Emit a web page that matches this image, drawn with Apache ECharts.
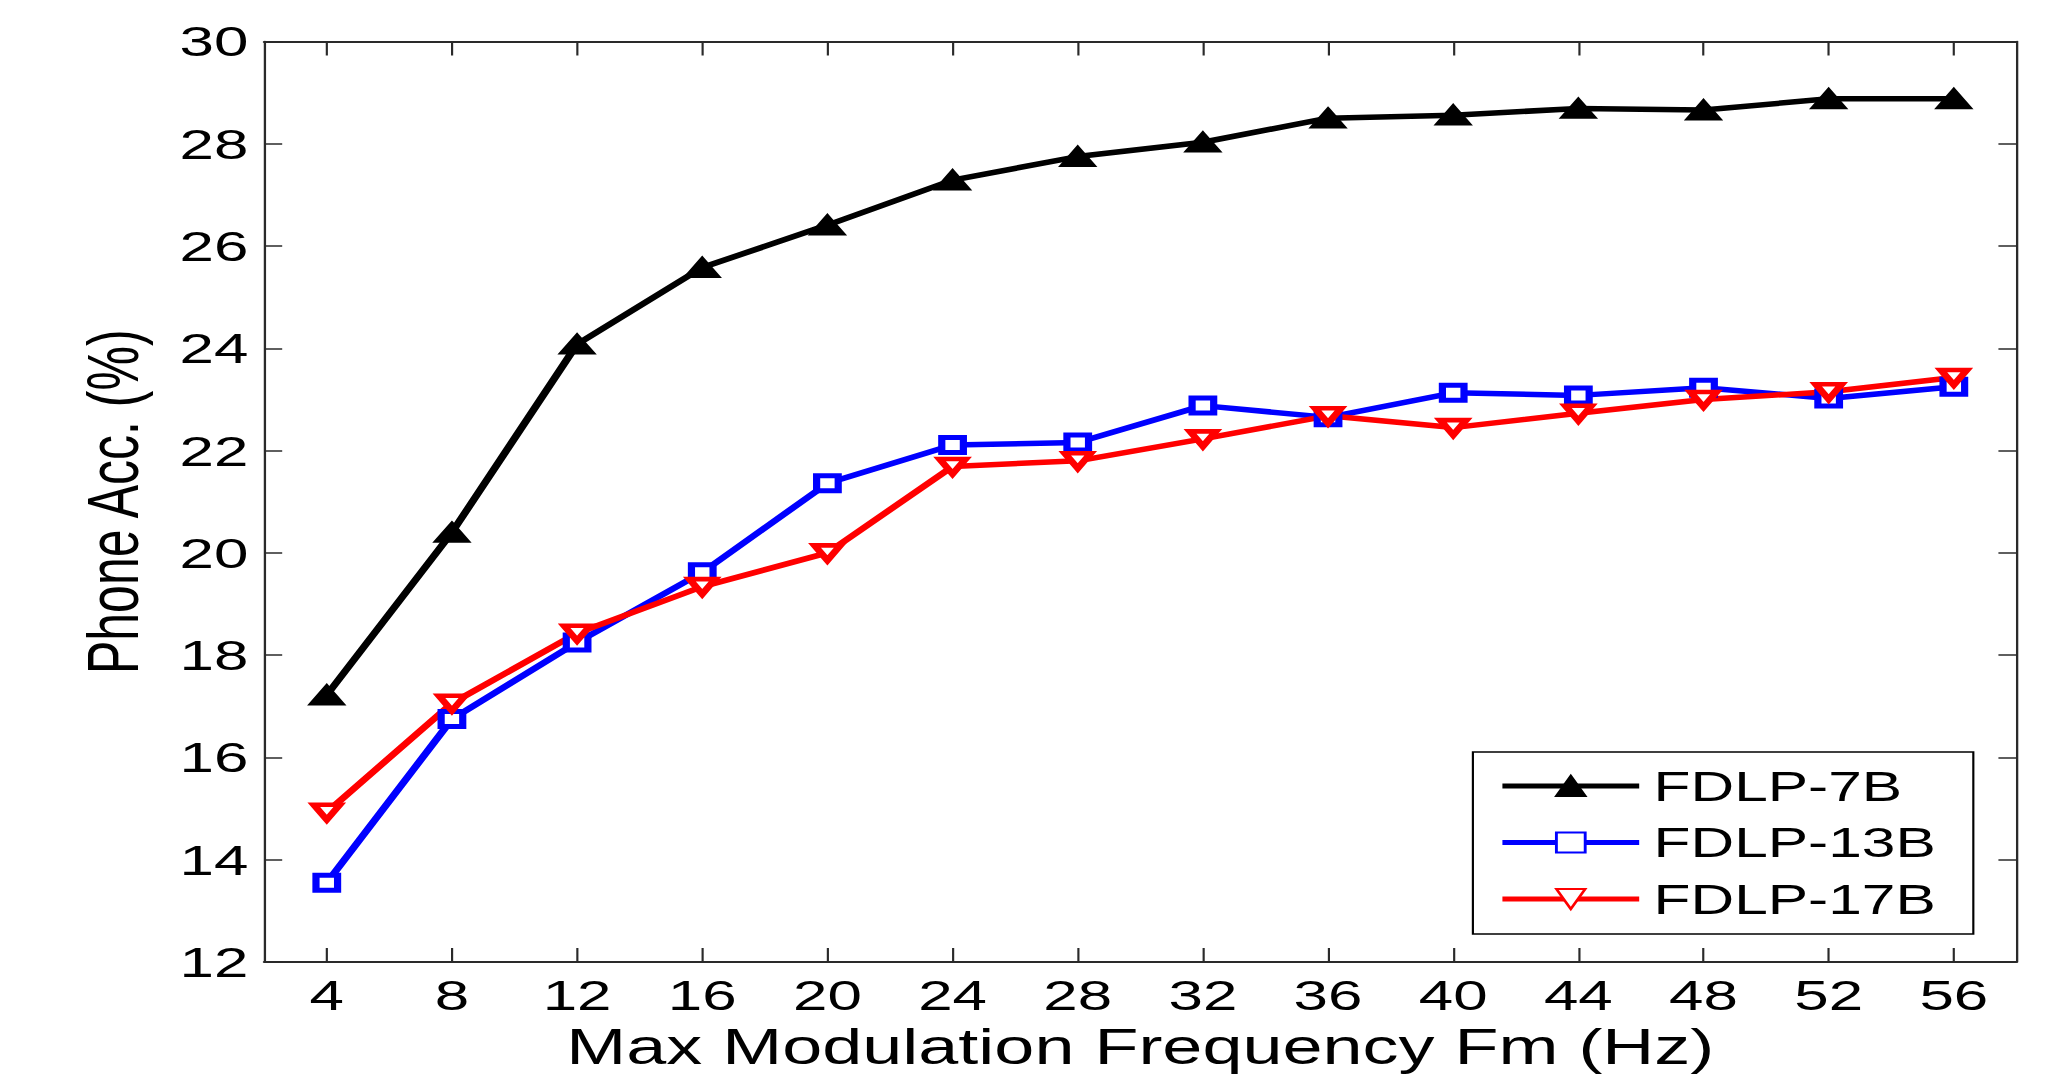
<!DOCTYPE html>
<html>
<head>
<meta charset="utf-8">
<script src="https://cdn.jsdelivr.net/npm/echarts@6/dist/echarts.min.js"></script>
<style>
html,body{margin:0;padding:0;background:#fff;}
#wrap{width:2056px;height:1086px;overflow:hidden;background:#fff;}
#chart{width:1428px;height:1086px;transform:scaleX(1.43978);transform-origin:0 0;}
</style>
</head>
<body>
<div id="wrap"><div id="chart"></div></div>
<script>
const categories = ['4','8','12','16','20','24','28','32','36','40','44','48','52','56'];
const fdlp7B  = [17.22, 20.4, 24.08, 25.58, 26.41, 27.29, 27.75, 28.03, 28.5, 28.56, 28.69, 28.66, 28.88, 28.88];
const fdlp13B = [13.55, 16.75, 18.25, 19.62, 21.36, 22.11, 22.16, 22.88, 22.65, 23.13, 23.08, 23.23, 23.02, 23.25];
const fdlp17B = [14.93, 17.06, 18.43, 19.34, 20.0, 21.69, 21.8, 22.23, 22.68, 22.45, 22.73, 23.0, 23.15, 23.43];
const yTicks = {min: 12, max: 30, interval: 2};
const xTitle = 'Max Modulation Frequency Fm (Hz)';
const yTitle = 'Phone Acc. (%)';

const FONT = '"Liberation Sans", Arial, Helvetica, sans-serif';
const axisColor = '#2a2a2a';

const chart = echarts.init(document.getElementById('chart'), null, {renderer: 'svg'});
chart.setOption({
  backgroundColor: '#fff',
  animation: false,
  grid: {left: 183.5, right: 27.5, top: 41.5, bottom: 124, containLabel: false},
  legend: {
    left: 1023, top: 752,
    orient: 'vertical',
    backgroundColor: '#fff',
    borderColor: '#000',
    borderWidth: 1.5,
    borderRadius: 0,
    padding: [13, 26, 14, 18],
    itemWidth: 95,
    itemHeight: 25,
    itemGap: 14.5,
    lineStyle: {width: 5},
    textStyle: {fontFamily: FONT, fontSize: 42, lineHeight: 42, color: '#000', padding: [0, 0, 0, 5]},
    data: ['FDLP-7B', 'FDLP-13B', 'FDLP-17B']
  },
  xAxis: [{
    type: 'category',
    data: categories,
    boundaryGap: true,
    position: 'bottom',
    name: xTitle,
    nameLocation: 'middle',
    nameGap: 58,
    nameTextStyle: {fontFamily: FONT, fontSize: 50, color: '#000'},
    axisLine: {show: true, lineStyle: {color: axisColor, width: 2}},
    axisTick: {show: true, inside: true, alignWithLabel: true, interval: 0, length: 14, lineStyle: {color: axisColor, width: 1.5}},
    axisLabel: {show: true, interval: 0, margin: 12, fontFamily: FONT, fontSize: 43, color: '#000'},
    splitLine: {show: false}
  }, {
    type: 'category',
    data: categories,
    boundaryGap: true,
    position: 'top',
    axisLine: {show: true, lineStyle: {color: axisColor, width: 2}},
    axisTick: {show: true, inside: true, alignWithLabel: true, interval: 0, length: 14, lineStyle: {color: axisColor, width: 1.5}},
    axisLabel: {show: false},
    splitLine: {show: false}
  }],
  yAxis: [{
    type: 'value',
    min: yTicks.min, max: yTicks.max, interval: yTicks.interval,
    position: 'left',
    name: yTitle,
    nameLocation: 'middle',
    nameGap: 80,
    nameRotate: 90,
    nameTextStyle: {fontFamily: FONT, fontSize: 50, color: '#000'},
    axisLine: {show: true, lineStyle: {color: axisColor, width: 1.6}},
    axisTick: {show: true, inside: true, length: 12.5, lineStyle: {color: axisColor, width: 1.5}},
    axisLabel: {show: true, margin: 11, fontFamily: FONT, fontSize: 43, color: '#000'},
    splitLine: {show: false}
  }, {
    type: 'value',
    min: yTicks.min, max: yTicks.max, interval: yTicks.interval,
    position: 'right',
    axisLine: {show: true, lineStyle: {color: axisColor, width: 1.6}},
    axisTick: {show: true, inside: true, length: 12.5, lineStyle: {color: axisColor, width: 1.5}},
    axisLabel: {show: false},
    splitLine: {show: false}
  }],
  series: [{
    name: 'FDLP-7B', type: 'line', data: fdlp7B,
    xAxisIndex: 0, yAxisIndex: 0,
    symbol: 'triangle', symbolSize: [22, 18],
    showAllSymbol: true,
    lineStyle: {color: '#000', width: 5.5},
    itemStyle: {color: '#000', borderColor: '#000', borderWidth: 3},
    emphasis: {disabled: true}
  }, {
    name: 'FDLP-13B', type: 'line', data: fdlp13B,
    xAxisIndex: 0, yAxisIndex: 0,
    symbol: 'rect', symbolSize: [15, 15],
    showAllSymbol: true,
    lineStyle: {color: '#0000ff', width: 5.5},
    itemStyle: {color: '#fff', borderColor: '#0000ff', borderWidth: 5},
    emphasis: {disabled: true}
  }, {
    name: 'FDLP-17B', type: 'line', data: fdlp17B,
    xAxisIndex: 0, yAxisIndex: 0,
    symbol: 'triangle', symbolRotate: 180, symbolSize: [18, 15],
    showAllSymbol: true,
    lineStyle: {color: '#ff0000', width: 5.5},
    itemStyle: {color: '#fff', borderColor: '#ff0000', borderWidth: 5},
    emphasis: {disabled: true}
  }]
});
</script>
</body>
</html>
